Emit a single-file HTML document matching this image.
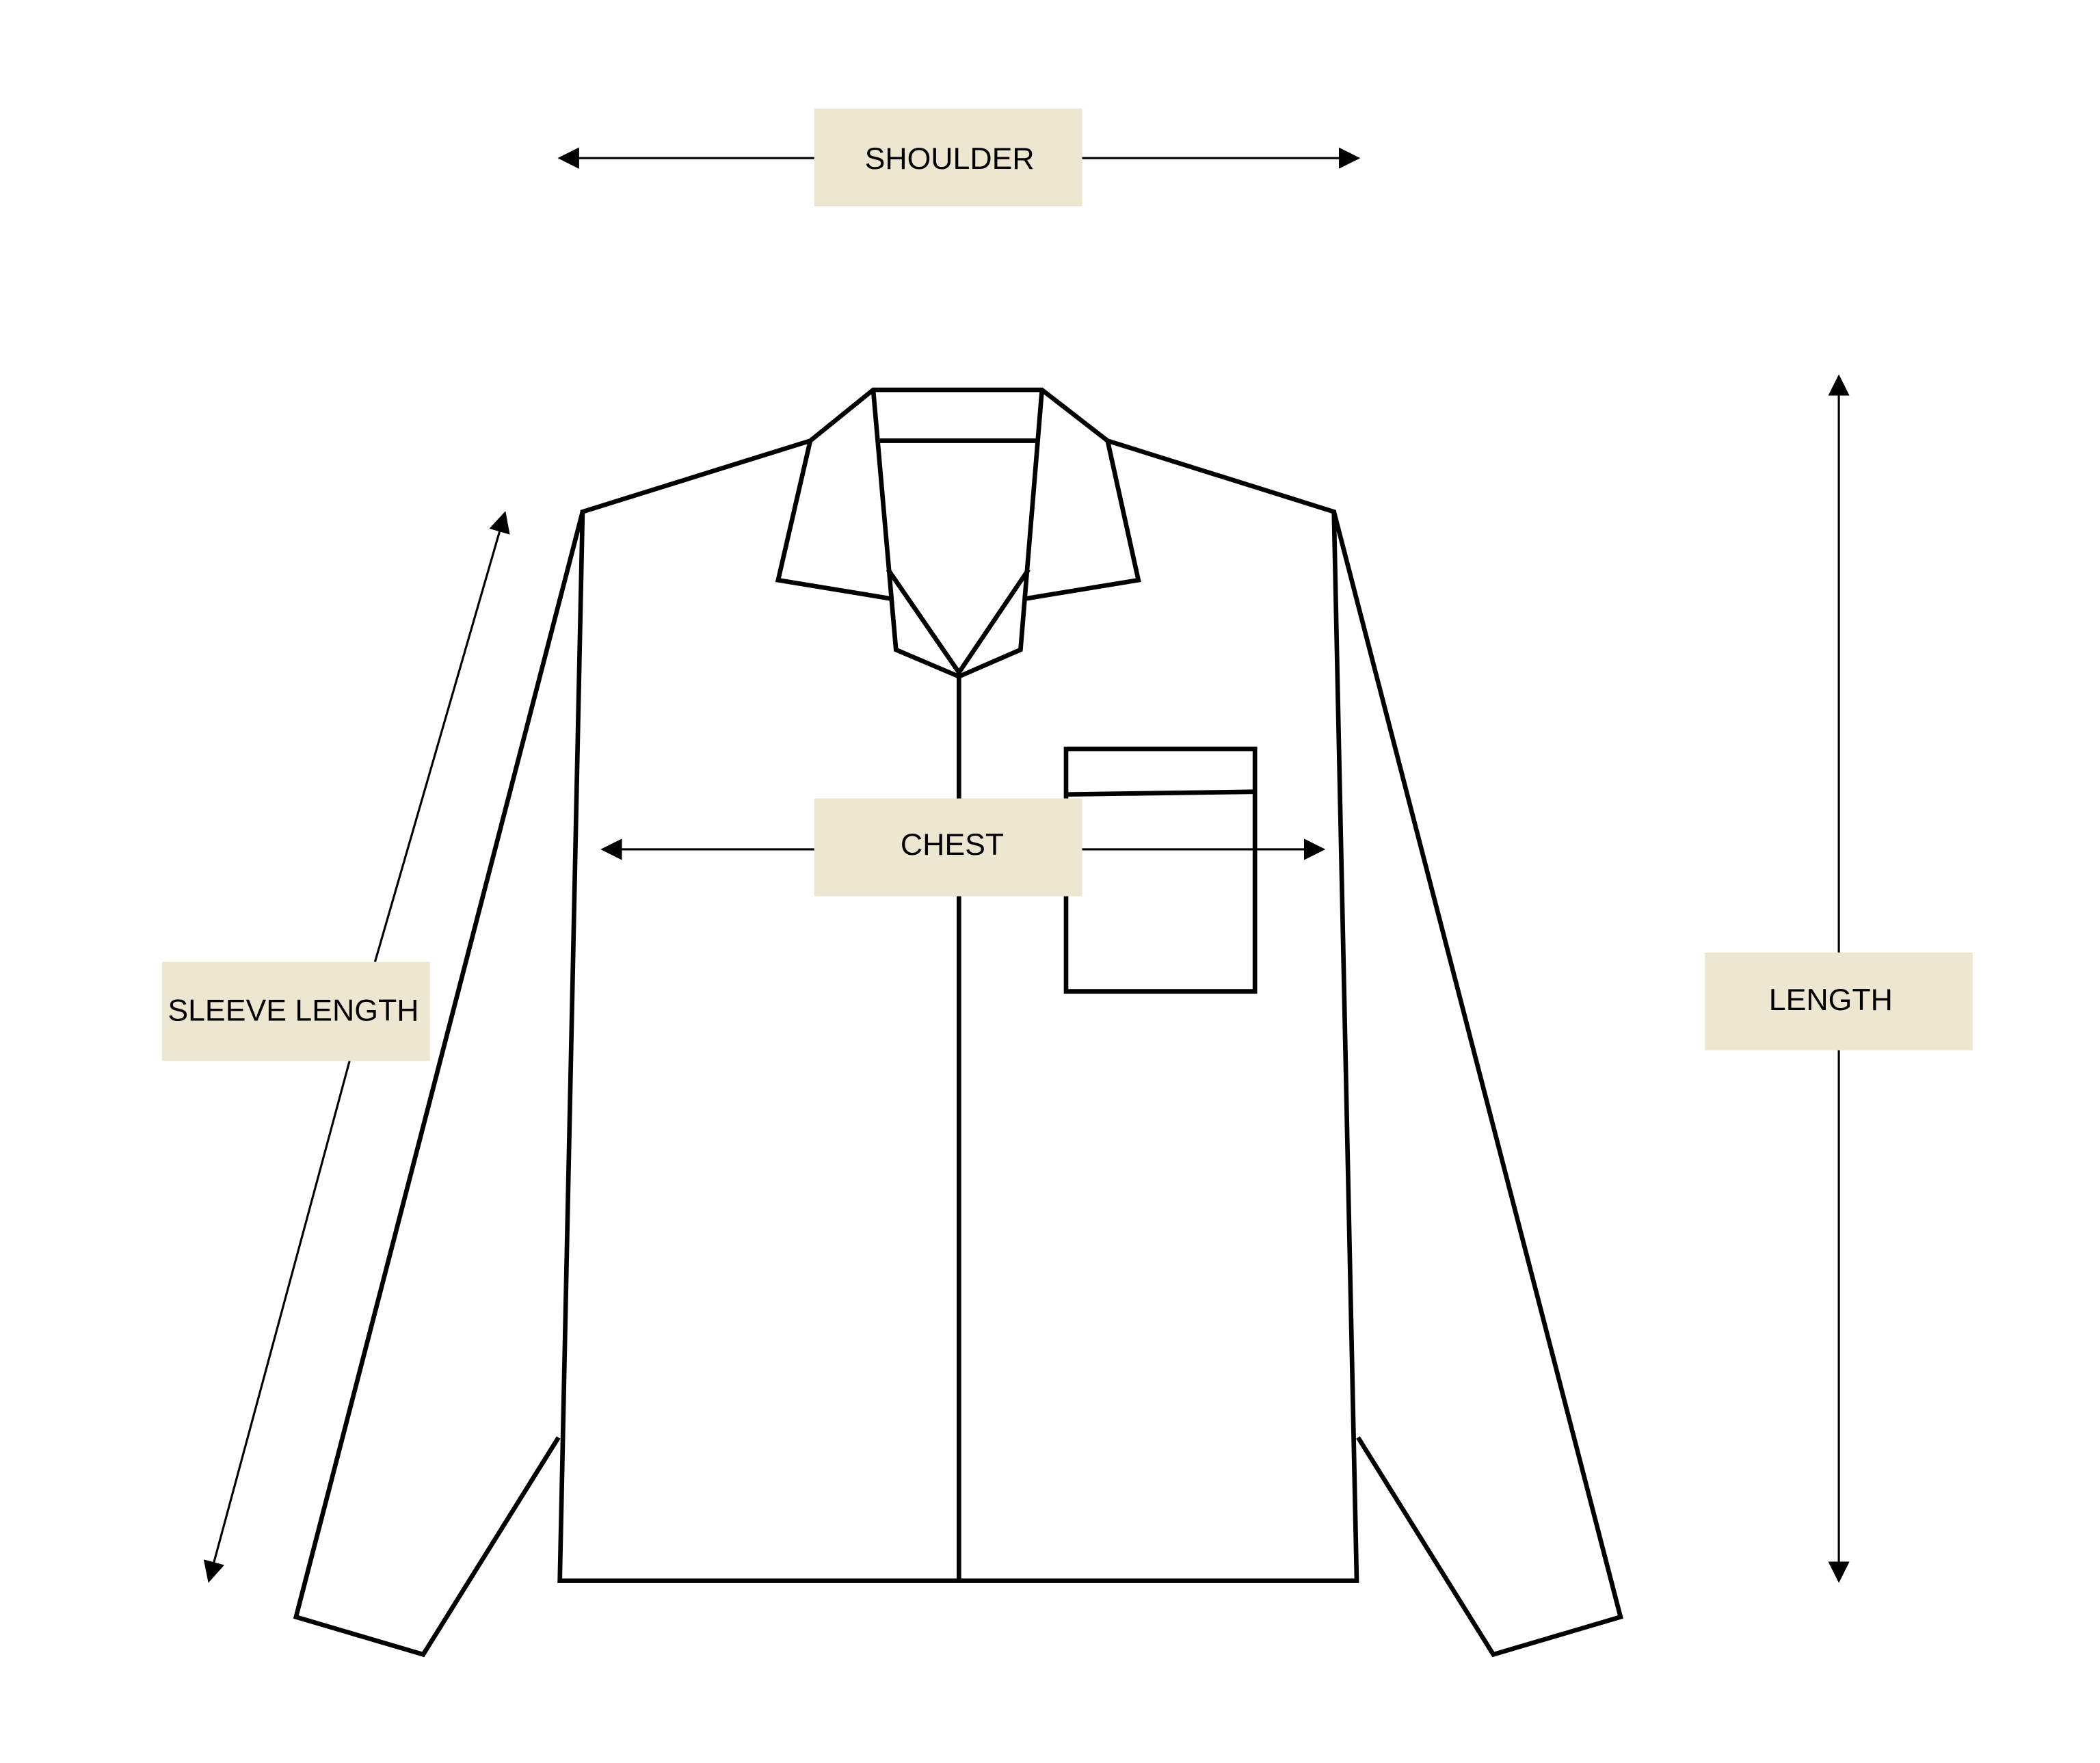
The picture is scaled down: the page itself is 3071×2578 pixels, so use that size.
<!DOCTYPE html>
<html><head><meta charset="utf-8"><style>html,body{margin:0;padding:0;background:#fff}svg{display:block}</style></head>
<body>
<svg width="3071" height="2578" viewBox="0 0 1568 1316" preserveAspectRatio="none" xmlns="http://www.w3.org/2000/svg">
<defs><marker id="a" viewBox="0 0 10 10" refX="9" refY="5" markerWidth="16" markerHeight="16" markerUnits="userSpaceOnUse" orient="auto"><path d="M0,0L10,5L0,10z" fill="#000"/></marker></defs>
<g fill="none" stroke="#000" stroke-width="3.4" stroke-linejoin="miter">
<path d="M652,291H778L827,329L996,382L1013,1180H418L435,382L605,329Z" fill="#fff"/>
<path d="M435,382L221,1207L316,1235L417,1073"/>
<path d="M996,382L1210,1207L1115,1235L1014,1073"/>
<path d="M605,329L581,433L666,447"/>
<path d="M827,329L850,433L765,447"/>
<path d="M652,291L669,485L716,505L762,485L778,291"/>
<path d="M657,329H774"/>
<path d="M663,425L716,502L768,425"/>
<path d="M716,505V1180"/>
<path d="M796,559H937V740H796Z"/>
<path d="M796,593L937,591"/>
</g>
<g stroke="#000" stroke-width="1.6">
<line x1="608" y1="118" x2="418" y2="118" marker-end="url(#a)"/>
<line x1="808" y1="118" x2="1014" y2="118" marker-end="url(#a)"/>
<line x1="608" y1="634" x2="450" y2="634" marker-end="url(#a)"/>
<line x1="808" y1="634" x2="988" y2="634" marker-end="url(#a)"/>
<line x1="280" y1="718" x2="377" y2="383" marker-end="url(#a)"/>
<line x1="261" y1="792" x2="156" y2="1180" marker-end="url(#a)"/>
<line x1="1373" y1="711" x2="1373" y2="281" marker-end="url(#a)"/>
<line x1="1373" y1="783" x2="1373" y2="1180" marker-end="url(#a)"/>
</g>
<g fill="#ede6d0">
<rect x="608" y="81" width="200" height="73"/>
<rect x="608" y="596" width="200" height="73"/>
<rect x="121" y="718" width="200" height="74"/>
<rect x="1273" y="711" width="200" height="73"/>
</g>
<g font-family="Liberation Sans, sans-serif" font-size="22.8" fill="#000" text-anchor="middle">
<text x="709" y="126">SHOULDER</text>
<text x="711" y="638">CHEST</text>
<text x="219" y="762">SLEEVE LENGTH</text>
<text x="1367" y="754">LENGTH</text>
</g>
</svg>
</body></html>
